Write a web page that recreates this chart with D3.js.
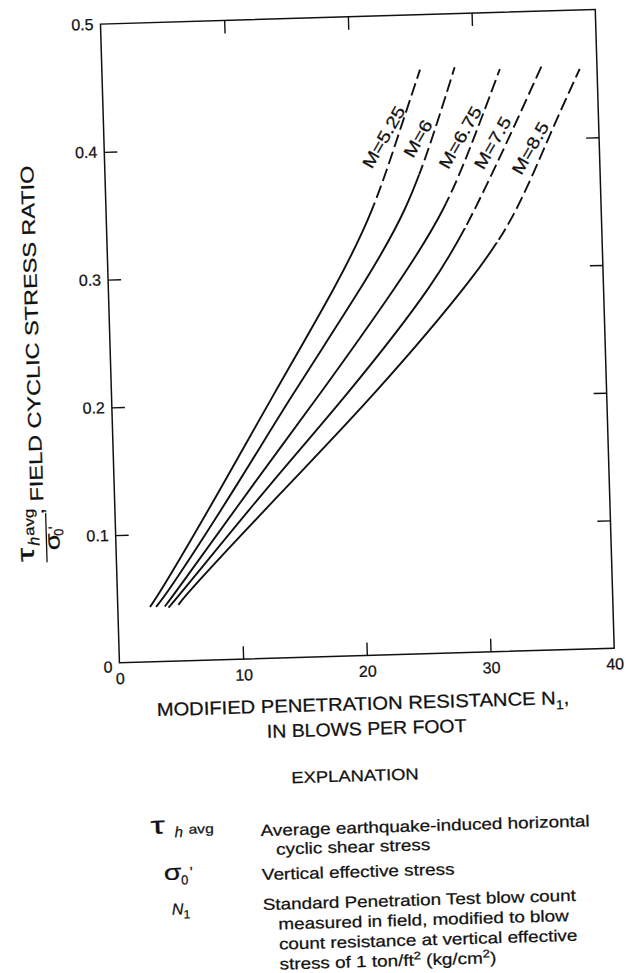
<!DOCTYPE html>
<html><head><meta charset="utf-8">
<script src="https://cdn.jsdelivr.net/npm/d3@7"></script>
<style>
html,body{margin:0;padding:0;background:#fff;}
svg{display:block;}
text{font-family:"Liberation Sans",Arial,Helvetica,sans-serif;fill:#111;stroke:#111;stroke-width:0.25;}
</style></head><body>
<svg id="chart" width="626" height="973"></svg>
<script>
// Earthquake magnitude curves: modified penetration resistance N1 vs field cyclic stress ratio
const magnitudes = ["M=5.25", "M=6", "M=6.75", "M=7.5", "M=8.5"];
const n1M525 = [2.6, 3.6, 9.0, 12.8, 18.7, 21.6, 23.65, 25.7];
const csrM525 = [0.043, 0.056, 0.140, 0.202, 0.294, 0.348, 0.4025, 0.457];
const n1M6 = [3.1, 4.25, 10.2, 14.3, 20.9, 24.3, 26.5, 28.5];
const csrM6 = [0.043, 0.056, 0.140, 0.2017, 0.2937, 0.3475, 0.4017, 0.458];
const n1M675 = [3.8, 4.85, 11.5, 16.5, 23.7, 27.4, 29.85, 32.15];
const csrM675 = [0.043, 0.0556, 0.140, 0.201, 0.293, 0.3466, 0.4007, 0.4556];
const n1M75 = [4.1, 5.35, 12.85, 18.7, 26.65, 29.8, 32.65, 35.55];
const csrM75 = [0.042, 0.0555, 0.1394, 0.2004, 0.292, 0.346, 0.40, 0.4574];
const n1M85 = [4.9, 5.85, 14.45, 20.9, 30.05, 33.3, 36.05, 38.6];
const csrM85 = [0.044, 0.0554, 0.139, 0.20, 0.2976, 0.345, 0.404, 0.4538];
// ratio above which each curve is extrapolated (dashed)
const solidUpTo = [0.352, 0.375, 0.352, 0.332, 0.32];
// ratio at which each curve is labelled
const labelRatio = [0.405, 0.403, 0.403, 0.398, 0.393];
const xTicks = [0, 10, 20, 30, 40];
const yTicks = [0, 0.1, 0.2, 0.3, 0.4, 0.5];

const n1Series = [n1M525, n1M6, n1M675, n1M75, n1M85];
const csrSeries = [csrM525, csrM6, csrM675, csrM75, csrM85];

const W = 495, H = 639, L = 109.85, T = 16.65;
const ink = "#111";
const x = d3.scaleLinear().domain([0, 40]).range([0, W]);
const y = d3.scaleLinear().domain([0, 0.5]).range([H, 0]);

const svg = d3.select("#chart");
const page = svg.append("g").attr("transform", "rotate(-1.7 357.35 336.15)");
const plot = page.append("g").attr("transform", `translate(${L},${T})`);

// text laid out along its baseline with a horizontal stretch
function stretched(parent, px, py, k, angle, anchor) {
  const g = parent.append("g")
    .attr("transform", `translate(${px},${py}) rotate(${angle}) scale(${k},1)`);
  return g.append("text").attr("text-anchor", anchor || "start");
}

// frame
plot.append("rect").attr("width", W).attr("height", H)
  .attr("fill", "none").attr("stroke", ink).attr("stroke-width", 1.5);

function styleAxis(g) {
  g.select(".domain").remove();
  g.attr("font-family", '"Liberation Sans",Arial,sans-serif').attr("font-size", 16);
  g.selectAll(".tick line").attr("stroke", ink).attr("stroke-width", 1.4);
  g.selectAll(".tick text").attr("fill", ink);
}

const gx = plot.append("g").attr("transform", `translate(0,${H})`)
  .call(d3.axisBottom(x).tickValues(xTicks).tickSize(-13).tickSizeOuter(0)
    .tickPadding(10).tickFormat(d3.format("d")));
styleAxis(gx);
gx.selectAll(".tick line").filter(d => d === 0 || d === 40).remove();

const gy = plot.append("g")
  .call(d3.axisLeft(y).tickValues(yTicks).tickSize(-13).tickSizeOuter(0)
    .tickPadding(7).tickFormat(d => d === 0 ? "0" : d3.format(".1f")(d)));
styleAxis(gy);
gy.selectAll(".tick line").filter(d => d === 0 || d === 0.5).remove();
gy.selectAll(".tick").filter(d => d === 0).select("text").attr("dy", "0.55em");

const gt = plot.append("g")
  .call(d3.axisTop(x).tickValues(xTicks.slice(1, -1)).tickSize(-13).tickSizeOuter(0).tickFormat(""));
styleAxis(gt);
const gr = plot.append("g").attr("transform", `translate(${W},0)`)
  .call(d3.axisRight(y).tickValues(yTicks.slice(1, -1)).tickSize(-13).tickSizeOuter(0).tickFormat(""));
styleAxis(gr);

// curves: solid where defined, dashed where extrapolated
const line = d3.line().x(d => x(d[0])).y(d => y(d[1])).curve(d3.curveBasis);
const defs = svg.append("defs");

n1Series.forEach((ns, i) => {
  const pts = ns.map((n, j) => [n, csrSeries[i][j]]);
  const cut = y(solidUpTo[i]);
  defs.append("clipPath").attr("id", `solid${i}`).append("rect")
    .attr("x", -20).attr("y", cut).attr("width", W + 40).attr("height", H - cut + 20);
  defs.append("clipPath").attr("id", `dash${i}`).append("rect")
    .attr("x", -20).attr("y", -20).attr("width", W + 40).attr("height", cut + 20);
  const solid = plot.append("path").datum(pts).attr("d", line)
    .attr("fill", "none").attr("stroke", ink).attr("stroke-width", 1.9)
    .attr("clip-path", `url(#solid${i})`);
  plot.append("path").datum(pts).attr("d", line)
    .attr("fill", "none").attr("stroke", ink).attr("stroke-width", 1.9)
    .attr("stroke-dasharray", "13,5")
    .attr("clip-path", `url(#dash${i})`);

  // label beside the dashed part
  const node = solid.node();
  const target = y(labelRatio[i]);
  let lo = 0, hi = node.getTotalLength();
  for (let k = 0; k < 40; k++) {
    const mid = (lo + hi) / 2;
    if (node.getPointAtLength(mid).y > target) lo = mid; else hi = mid;
  }
  const p = node.getPointAtLength((lo + hi) / 2);
  stretched(plot, p.x - 14, p.y, 1.2, -58.5, "middle")
    .attr("dominant-baseline", "central").attr("font-size", 17)
    .text(magnitudes[i]);
});

// y-axis title: fraction followed by the description, read bottom to top
const yt = page.append("g").attr("transform", "translate(38.5,553) rotate(-90)");
stretched(yt, 1, -11, 1.5, 0).attr("font-size", 24).text("\u03C4");
yt.append("text").attr("x", 17).attr("y", -5).attr("font-size", 16).attr("font-style", "italic").text("h");
stretched(yt, 27, -10, 1.2, 0).attr("font-size", 14).text("avg");
yt.append("line").attr("x1", 0).attr("x2", 49).attr("y1", 2).attr("y2", 2)
  .attr("stroke", ink).attr("stroke-width", 1.3);
stretched(yt, 12, 15, 1.3, 0).attr("font-size", 21).text("\u03C3");
yt.append("text").attr("x", 26).attr("y", 19).attr("font-size", 13).text("0");
yt.append("text").attr("x", 33).attr("y", 15).attr("font-size", 15).text("'");
stretched(yt, 48, 0, 1.27, 0).attr("font-size", 18.5).text(", FIELD CYCLIC STRESS RATIO");

// x-axis title
const xt1 = stretched(page, 352, 710, 1.09, 0, "middle").attr("font-size", 18.5);
xt1.append("tspan").text("MODIFIED PENETRATION RESISTANCE N");
xt1.append("tspan").attr("font-size", 13).attr("dy", 5).text("1");
xt1.append("tspan").attr("dy", -5).text(",");
stretched(page, 355, 735, 1.05, 0, "middle").attr("font-size", 18.5).text("IN BLOWS PER FOOT");

// explanation
stretched(page, 342, 781, 1.15, 0, "middle").attr("font-size", 16).text("EXPLANATION");

const tau = page.append("g").attr("transform", "translate(136,827.5)");
stretched(tau, 0, 0, 1.5, 0).attr("font-size", 24).text("\u03C4");
tau.append("text").attr("x", 24).attr("y", 4).attr("font-size", 15).attr("font-style", "italic").text("h");
stretched(tau, 38, 1, 1.2, 0).attr("font-size", 13).text("avg");

const sig = page.append("g").attr("transform", "translate(148,874)");
stretched(sig, 0, 0, 1.3, 0).attr("font-size", 22).text("\u03C3");
sig.append("text").attr("x", 17).attr("y", 5).attr("font-size", 13).text("0");
sig.append("text").attr("x", 26).attr("y", -2).attr("font-size", 15).text("'");

const nsym = page.append("text").attr("transform", "translate(155,909)").attr("font-size", 16);
nsym.append("tspan").attr("font-style", "italic").text("N");
nsym.append("tspan").attr("font-size", 12).attr("dy", 4).text("1");

const body = [
  [246, 833, "Average earthquake-induced horizontal"],
  [261, 852, "cyclic shear stress"],
  [246, 877, "Vertical effective stress"],
  [246, 907, "Standard Penetration Test blow count"],
  [261, 927, "measured in field, modified to blow"],
  [261, 947, "count resistance at vertical effective"]
];
body.forEach(b => stretched(page, b[0], b[1], 1.18, 0).attr("font-size", 16).text(b[2]));
const last = stretched(page, 261, 967, 1.18, 0).attr("font-size", 16);
last.append("tspan").text("stress of 1 ton/ft");
last.append("tspan").attr("font-size", 11).attr("dy", -6).text("2");
last.append("tspan").attr("dy", 6).text(" (kg/cm");
last.append("tspan").attr("font-size", 11).attr("dy", -6).text("2");
last.append("tspan").attr("dy", 6).text(")");
</script>
</body></html>
